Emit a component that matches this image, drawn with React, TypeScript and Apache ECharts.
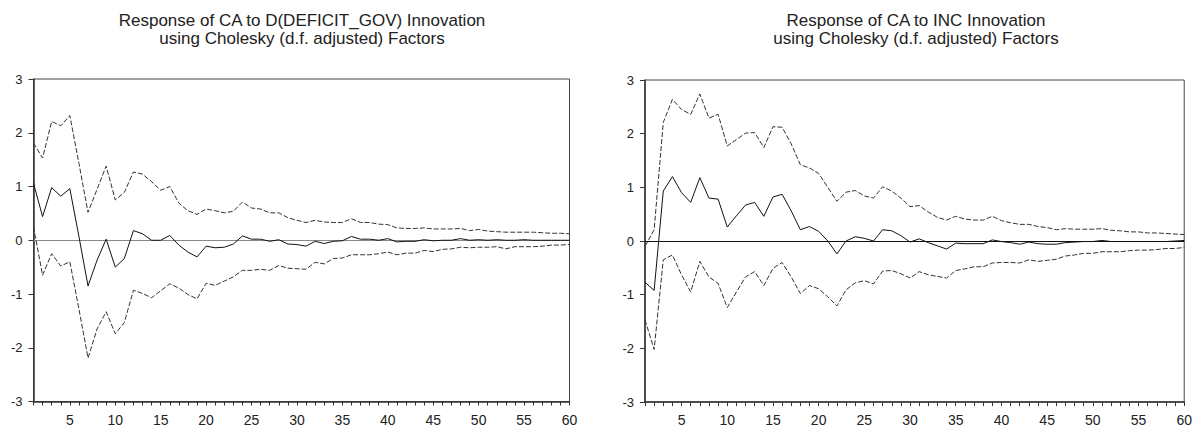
import React, { useEffect, useRef } from "react";
import * as echarts from "echarts";

const periods: string[] = Array.from({ length: 60 }, (_, i) => String(i + 1));

const titleLeft = "Response of CA to D(DEFICIT_GOV) Innovation\nusing Cholesky (d.f. adjusted) Factors";
const titleRight = "Response of CA to INC Innovation\nusing Cholesky (d.f. adjusted) Factors";

// Left panel: response of CA to D(DEFICIT_GOV)
const respDeficit = [
  1.06, 0.44, 0.98, 0.82, 0.96, 0.07, -0.85, -0.37, 0.02, -0.5,
  -0.34, 0.18, 0.12, 0.0, 0.0, 0.09, -0.09, -0.22, -0.31, -0.11,
  -0.14, -0.13, -0.07, 0.08, 0.02, 0.02, -0.02, 0.01, -0.07, -0.08,
  -0.11, -0.02, -0.06, -0.02, -0.01, 0.07, 0.02, 0.02, 0.0, 0.03,
  -0.03, -0.02, -0.02, 0.01, -0.01, 0.0, 0.0, 0.03, 0.0, 0.01,
  0.0, 0.01, 0.0, 0.0, 0.01, 0.0, 0.0, 0.0, 0.0, 0.0,
];
const upperDeficit = [
  1.81, 1.53, 2.21, 2.13, 2.32, 1.43, 0.52, 0.95, 1.38, 0.75,
  0.89, 1.27, 1.23, 1.09, 0.93, 1.0, 0.69, 0.55, 0.48, 0.58,
  0.55, 0.51, 0.54, 0.71, 0.6, 0.58, 0.51, 0.51, 0.42, 0.37,
  0.33, 0.37, 0.34, 0.33, 0.33, 0.4, 0.33, 0.33, 0.3, 0.29,
  0.23, 0.22, 0.22, 0.23, 0.21, 0.21, 0.21, 0.22, 0.18, 0.2,
  0.17, 0.16, 0.15, 0.15, 0.15, 0.15, 0.14, 0.13, 0.13, 0.12,
];
const lowerDeficit = [
  0.25, -0.65, -0.25, -0.48, -0.4, -1.28, -2.19, -1.65, -1.33, -1.74,
  -1.53, -0.93, -0.99, -1.07, -0.94, -0.81, -0.89, -1.01, -1.09, -0.8,
  -0.84, -0.76, -0.68, -0.56, -0.56, -0.54, -0.56, -0.47, -0.52, -0.53,
  -0.54, -0.41, -0.44, -0.34, -0.33, -0.27, -0.27, -0.27, -0.25, -0.22,
  -0.27, -0.24, -0.24, -0.19, -0.21, -0.17, -0.16, -0.13, -0.14, -0.13,
  -0.13, -0.12, -0.16, -0.12, -0.12, -0.12, -0.11, -0.09, -0.09, -0.08,
];

// Right panel: response of CA to INC
const respInc = [
  -0.77, -0.92, 0.93, 1.2, 0.9, 0.72, 1.18, 0.8, 0.78, 0.26,
  0.47, 0.67, 0.72, 0.46, 0.82, 0.87, 0.56, 0.21, 0.27, 0.18,
  0.0, -0.24, 0.0, 0.08, 0.05, 0.0, 0.21, 0.19, 0.1, -0.02,
  0.04, -0.03, -0.09, -0.15, -0.04, -0.05, -0.05, -0.05, 0.02, -0.01,
  -0.03, -0.06, -0.02, -0.05, -0.06, -0.06, -0.03, -0.02, -0.01, -0.01,
  0.01, -0.01, -0.01, -0.01, -0.01, -0.01, -0.01, -0.01, 0.0, 0.01,
];
const upperInc = [
  -0.1, 0.21, 2.21, 2.64, 2.45, 2.36, 2.74, 2.29, 2.36, 1.77,
  1.89, 2.01, 2.02, 1.74, 2.13, 2.12, 1.81, 1.42, 1.36, 1.26,
  1.0, 0.74, 0.91, 0.94, 0.84, 0.8, 1.01, 0.93, 0.8, 0.64,
  0.66, 0.54, 0.44, 0.39, 0.46, 0.41, 0.39, 0.39, 0.46, 0.38,
  0.34, 0.31, 0.31, 0.27, 0.25, 0.21, 0.23, 0.22, 0.22, 0.22,
  0.23, 0.2, 0.19, 0.17, 0.17, 0.15, 0.15, 0.14, 0.13, 0.12,
];
const lowerInc = [
  -1.47, -2.02, -0.35, -0.26, -0.63, -0.95, -0.38, -0.67, -0.79, -1.24,
  -0.95, -0.67, -0.57, -0.83, -0.51, -0.4, -0.67, -0.98, -0.83, -0.89,
  -1.04, -1.21, -0.91, -0.78, -0.74, -0.8, -0.56, -0.55, -0.61, -0.69,
  -0.57, -0.63, -0.66, -0.69, -0.55, -0.52, -0.48, -0.48, -0.41, -0.4,
  -0.4, -0.41, -0.35, -0.38, -0.36, -0.34, -0.28, -0.26, -0.23, -0.23,
  -0.2, -0.2, -0.2, -0.18, -0.17, -0.17, -0.16, -0.14, -0.14, -0.12,
];

const FONT = "'Liberation Sans', Arial, sans-serif";
const AXIS_COLOR = "#333";
const TEXT_COLOR = "#222";

function xAxisFor(gridIndex: number) {
  return {
    gridIndex,
    type: "category",
    data: periods,
    boundaryGap: false,
    axisLine: { show: true, onZero: false, lineStyle: { color: AXIS_COLOR, width: 1.5 } },
    axisTick: { show: true, interval: 0, length: 4, lineStyle: { color: AXIS_COLOR, width: 1 } },
    axisLabel: {
      interval: (i: number) => (i + 1) % 5 === 0,
      margin: 11,
      fontSize: 14,
      fontFamily: FONT,
      color: TEXT_COLOR,
    },
    splitLine: { show: false },
  };
}

function yAxisFor(gridIndex: number) {
  return {
    gridIndex,
    type: "value",
    min: -3,
    max: 3,
    interval: 1,
    axisLine: { show: true, lineStyle: { color: AXIS_COLOR, width: 1.5 } },
    axisTick: { show: true, length: 5, lineStyle: { color: AXIS_COLOR, width: 1 } },
    axisLabel: { margin: 11, fontSize: 13, fontFamily: FONT, color: TEXT_COLOR },
    splitLine: { show: false },
  };
}

function bandSeries(idx: number, data: number[]) {
  return {
    type: "line",
    xAxisIndex: idx,
    yAxisIndex: idx,
    data,
    symbol: "none",
    lineStyle: { color: "#333", width: 1, type: [5, 2] },
    silent: true,
    z: 3,
  };
}

function mainSeries(idx: number, data: number[], zeroColor: string) {
  return {
    type: "line",
    xAxisIndex: idx,
    yAxisIndex: idx,
    data,
    symbol: "none",
    lineStyle: { color: "#111", width: 1 },
    silent: true,
    z: 4,
    markLine: {
      silent: true,
      symbol: "none",
      label: { show: false },
      lineStyle: { color: zeroColor, width: 1, type: "solid" },
      data: [{ yAxis: 0 }],
      z: 2,
    },
  };
}

export default function App() {
  const ref = useRef<HTMLDivElement>(null);
  useEffect(() => {
    if (!ref.current) return;
    const chart = echarts.init(ref.current, undefined, { renderer: "svg" });
    chart.setOption({
      animation: false,
      backgroundColor: "#ffffff",
      title: [
        {
          text: titleLeft,
          left: 302,
          top: 11,
          padding: 0,
          textAlign: "center",
          textStyle: { fontSize: 17, fontWeight: "normal", fontFamily: FONT, color: TEXT_COLOR, lineHeight: 18.5 },
        },
        {
          text: titleRight,
          left: 916,
          top: 11,
          padding: 0,
          textAlign: "center",
          textStyle: { fontSize: 17, fontWeight: "normal", fontFamily: FONT, color: TEXT_COLOR, lineHeight: 18.5 },
        },
      ],
      grid: [
        { left: 33.5, top: 79, width: 536, height: 322.5, show: true, borderColor: "#444", borderWidth: 1, backgroundColor: "transparent" },
        { left: 645, top: 80, width: 542, height: 326, show: true, borderColor: "#444", borderWidth: 1, backgroundColor: "transparent" },
      ],
      xAxis: [xAxisFor(0), xAxisFor(1)],
      yAxis: [yAxisFor(0), yAxisFor(1)],
      series: [
        bandSeries(0, upperDeficit),
        mainSeries(0, respDeficit, "#888"),
        bandSeries(0, lowerDeficit),
        bandSeries(1, upperInc),
        mainSeries(1, respInc, "#111"),
        bandSeries(1, lowerInc),
      ],
    });
    return () => chart.dispose();
  }, []);
  return (
    <div
      ref={ref}
      style={{ position: "fixed", left: 0, top: 0, width: 1195, height: 427, background: "#fff" }}
    />
  );
}
